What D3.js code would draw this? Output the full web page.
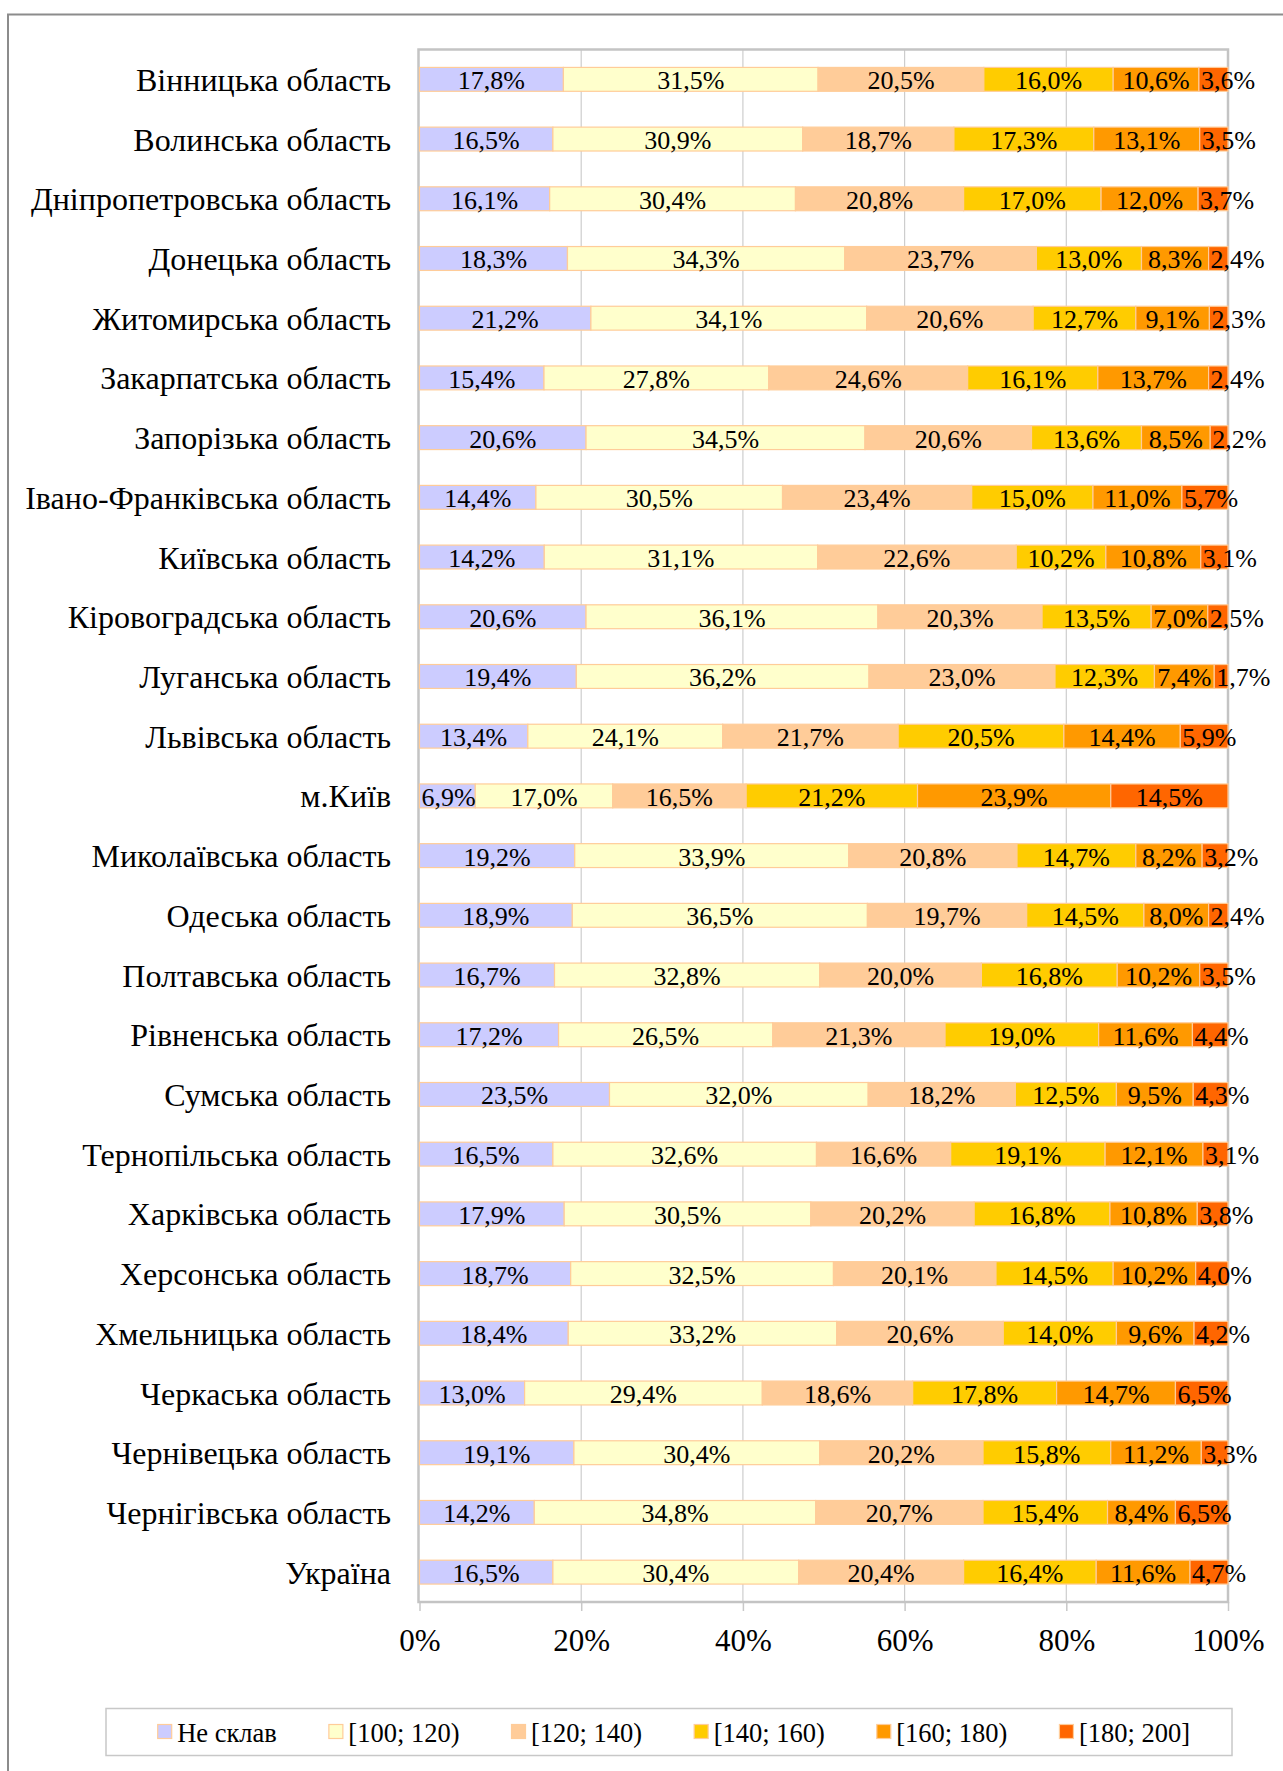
<!DOCTYPE html>
<html>
<head>
<meta charset="utf-8">
<script src="https://cdn.jsdelivr.net/npm/d3@7"></script>
<style>
  html, body { margin: 0; padding: 0; background: #ffffff; }
  svg { display: block; }
  text { font-family: "Liberation Serif", "Times New Roman", serif; fill: #000; }
</style>
</head>
<body>
<svg id="chart" width="1283" height="1771"></svg>
<script>
const categories = [
  "Вінницька область", "Волинська область", "Дніпропетровська область", "Донецька область",
  "Житомирська область", "Закарпатська область", "Запорізька область", "Івано-Франківська область",
  "Київська область", "Кіровоградська область", "Луганська область", "Львівська область",
  "м.Київ", "Миколаївська область", "Одеська область", "Полтавська область",
  "Рівненська область", "Сумська область", "Тернопільська область", "Харківська область",
  "Херсонська область", "Хмельницька область", "Черкаська область", "Чернівецька область",
  "Чернігівська область", "Україна"
];
const seriesNames = ["Не склав", "[100; 120)", "[120; 140)", "[140; 160)", "[160; 180)", "[180; 200]"];
const neSklav  = [17.8,16.5,16.1,18.3,21.2,15.4,20.6,14.4,14.2,20.6,19.4,13.4,6.9,19.2,18.9,16.7,17.2,23.5,16.5,17.9,18.7,18.4,13.0,19.1,14.2,16.5];
const r100_120 = [31.5,30.9,30.4,34.3,34.1,27.8,34.5,30.5,31.1,36.1,36.2,24.1,17.0,33.9,36.5,32.8,26.5,32.0,32.6,30.5,32.5,33.2,29.4,30.4,34.8,30.4];
const r120_140 = [20.5,18.7,20.8,23.7,20.6,24.6,20.6,23.4,22.6,20.3,23.0,21.7,16.5,20.8,19.7,20.0,21.3,18.2,16.6,20.2,20.1,20.6,18.6,20.2,20.7,20.4];
const r140_160 = [16.0,17.3,17.0,13.0,12.7,16.1,13.6,15.0,10.2,13.5,12.3,20.5,21.2,14.7,14.5,16.8,19.0,12.5,19.1,16.8,14.5,14.0,17.8,15.8,15.4,16.4];
const r160_180 = [10.6,13.1,12.0,8.3,9.1,13.7,8.5,11.0,10.8,7.0,7.4,14.4,23.9,8.2,8.0,10.2,11.6,9.5,12.1,10.8,10.2,9.6,14.7,11.2,8.4,11.6];
const r180_200 = [3.6,3.5,3.7,2.4,2.3,2.4,2.2,5.7,3.1,2.5,1.7,5.9,14.5,3.2,2.4,3.5,4.4,4.3,3.1,3.8,4.0,4.2,6.5,3.3,6.5,4.7];
const tickValues = [0, 0.2, 0.4, 0.6, 0.8, 1.0];
const tickLabels = ["0%", "20%", "40%", "60%", "80%", "100%"];
const colors = ["#ccccff", "#ffffcc", "#ffcc99", "#ffcc00", "#ff9900", "#ff6600"];

const seriesData = [neSklav, r100_120, r120_140, r140_160, r160_180, r180_200];
const rows = categories.map((c, i) => {
  const o = { cat: c };
  seriesNames.forEach((s, k) => { o[s] = seriesData[k][i]; });
  return o;
});

const svg = d3.select("#chart");

// outer frame (left & top edges visible)
svg.append("path")
  .attr("d", "M8,1771 L8,14.5 L1283,14.5")
  .attr("fill", "none").attr("stroke", "#8c8c8c").attr("stroke-width", 2);

const plot = { left: 418.5, right: 1228, top: 49.5, bottom: 1602 };

const x = d3.scaleLinear().domain([0, 1]).range([plot.left + 1, plot.right]);
const y = d3.scaleBand().domain(categories).range([plot.top, plot.bottom])
  .paddingInner(0.6).paddingOuter(0.3);

// gridlines
svg.append("g").selectAll("line").data(tickValues.slice(1, -1)).join("line")
  .attr("x1", d => x(d)).attr("x2", d => x(d))
  .attr("y1", plot.top).attr("y2", plot.bottom)
  .attr("stroke", "#cdcdcd").attr("stroke-width", 1.2);

// x axis ticks + labels
const xAxis = d3.axisBottom(x).tickValues(tickValues)
  .tickFormat((d, i) => tickLabels[i]).tickSize(9).tickPadding(18);
const gx = svg.append("g").attr("transform", `translate(0,${plot.bottom})`).call(xAxis);
gx.select(".domain").remove();
gx.selectAll(".tick line").attr("stroke", "#c8c8c8").attr("stroke-width", 1.5);
gx.selectAll(".tick text")
  .style("font-family", '"Liberation Serif", "Times New Roman", serif')
  .style("font-size", "31px").attr("fill", "#000");

// plot border
svg.append("rect")
  .attr("x", plot.left).attr("y", plot.top)
  .attr("width", plot.right - plot.left).attr("height", plot.bottom - plot.top)
  .attr("fill", "none").attr("stroke", "#c4c4c4").attr("stroke-width", 2.5);

// stacked bars (100% stacked)
const stack = d3.stack().keys(seriesNames).offset(d3.stackOffsetExpand);
const stacked = stack(rows);

const gBars = svg.append("g");
stacked.forEach((layer, k) => {
  gBars.append("g").selectAll("rect").data(layer).join("rect")
    .attr("x", d => x(d[0]))
    .attr("y", d => y(d.data.cat))
    .attr("width", d => x(d[1]) - x(d[0]))
    .attr("height", y.bandwidth())
    .attr("fill", colors[k])
    .attr("stroke", "#ffcc99").attr("stroke-width", 1.2);
});

// data labels: centred in segment, but never starting before the segment start
const fmt = v => v.toFixed(1).replace(".", ",") + "%";
const gLab = svg.append("g");
stacked.forEach((layer, k) => {
  gLab.append("g").selectAll("text").data(layer).join("text")
    .attr("y", d => y(d.data.cat) + y.bandwidth() / 2 + 10)
    .attr("text-anchor", "start")
    .style("font-size", "26px")
    .text(d => fmt(d.data[seriesNames[k]]))
    .each(function (d) {
      const w = this.getComputedTextLength();
      const x0 = x(d[0]), x1 = x(d[1]);
      const start = Math.max((x0 + x1) / 2 - w / 2, x0 + 2);
      d3.select(this).attr("x", start);
    });
});

// category labels
svg.append("g").selectAll("text").data(categories).join("text")
  .attr("x", 391)
  .attr("y", d => y(d) + y.bandwidth() / 2 + 11.5)
  .attr("text-anchor", "end")
  .style("font-size", "32px")
  .text(d => d);

// legend
const legBox = { x: 106, y: 1708.5, w: 1126, h: 47 };
svg.append("rect")
  .attr("x", legBox.x).attr("y", legBox.y).attr("width", legBox.w).attr("height", legBox.h)
  .attr("fill", "#fff").attr("stroke", "#c8c8c8").attr("stroke-width", 1.5);

const gLeg = svg.append("g");
const items = gLeg.selectAll("g").data(seriesNames).join("g");
items.append("rect")
  .attr("width", 14).attr("height", 14)
  .attr("y", 1724.5)
  .attr("fill", (d, i) => colors[i])
  .attr("stroke", "#ffcc99").attr("stroke-width", 1.2);
items.append("text")
  .attr("x", 19.5).attr("y", 1741.5)
  .style("font-size", "26.5px")
  .text(d => d);
let cx = 0;
const offsets = [];
items.each(function () {
  offsets.push(cx);
  const w = d3.select(this).select("text").node().getComputedTextLength();
  cx += 19.5 + w + 52;
});
const startX = 157.7;
items.attr("transform", (d, i) => `translate(${startX + offsets[i]},0)`);
</script>
</body>
</html>
